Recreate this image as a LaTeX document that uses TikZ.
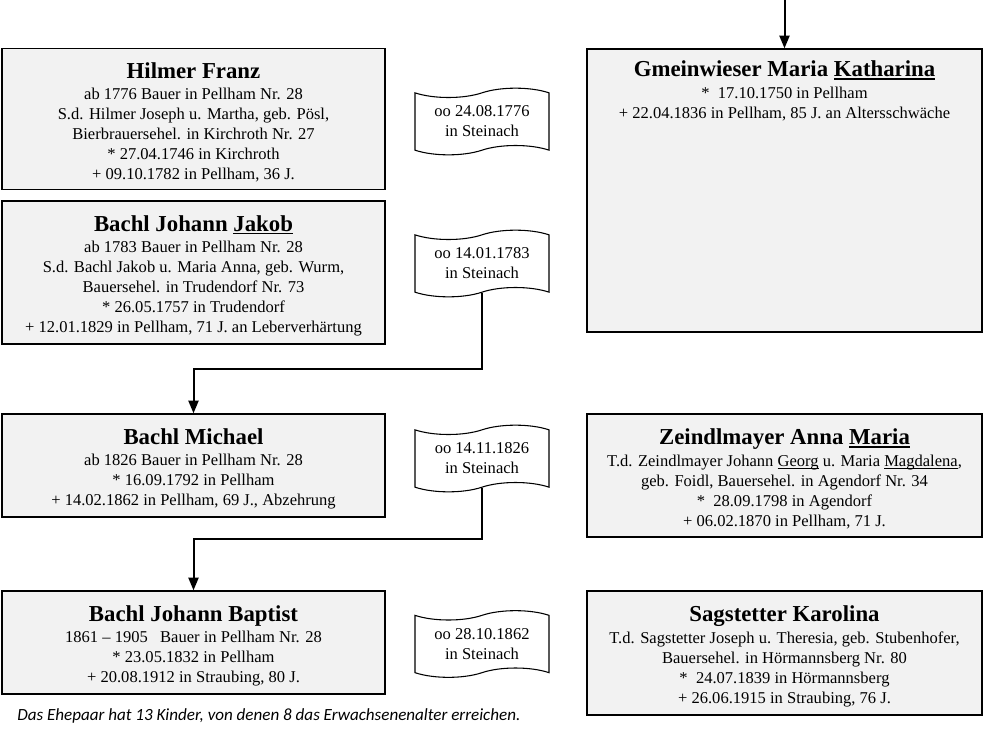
\documentclass[tikz,border=0pt]{standalone}
\usepackage{fontspec}
\setmainfont{Liberation Serif}
\newfontfamily\capfont{Carlito}
\usetikzlibrary{shapes.symbols,arrows.meta}
\definecolor{boxgray}{HTML}{F2F2F2}
\newcommand\pname[1]{{\fontsize{17.1}{20}\selectfont\bfseries\rule{0pt}{16.8pt}#1}}
\newcommand\uln[3][0.6pt]{\setbox0\hbox{#3}\rlap{\rule[#2]{\wd0}{#1}}\box0\relax}
\begin{document}
\begin{tikzpicture}[x=0.75pt,y=-0.75pt,
  pbox/.style={draw, line width=1pt, fill=boxgray, inner sep=0pt, align=center,
    font=\fontsize{12.4}{15}\selectfont},
  lbox/.style={pbox, minimum width=287.25pt},
  rbox/.style={pbox, minimum width=296.25pt},
  banner/.style={tape, draw, line width=0.8pt, fill=white, align=center,
    minimum width=100.5pt, minimum height=50pt, inner sep=0pt,
    tape bend top=in and out, tape bend bottom=in and out, tape bend height=7pt,
    font=\fontsize{12.4}{15}\selectfont},
  conn/.style={line width=1.5pt, -{Triangle[width=7.5pt,length=9.5pt]}}
]
\useasboundingbox (0,0) rectangle (983,736);

% left column
\node[lbox, minimum height=105.75pt] (hilmer) at (193.5,119) {\pname{Hilmer Franz}\\[1.2pt]
ab 1776 Bauer in Pellham Nr. 28\\
S.d. Hilmer Joseph u. Martha, geb. Pösl,\\
Bierbrauersehel. in Kirchroth Nr. 27\\
* 27.04.1746 in Kirchroth\\
+ 09.10.1782 in Pellham, 36 J.};

\node[lbox, minimum height=107.25pt] (jakob) at (193.5,272.5) {\pname{Bachl Johann \uln[1.1pt]{-2.2pt}{Jakob}}\\[1.2pt]
ab 1783 Bauer in Pellham Nr. 28\\
S.d. Bachl Jakob u. Maria Anna, geb. Wurm,\\
Bauersehel. in Trudendorf Nr. 73\\
* 26.05.1757 in Trudendorf\\
+ 12.01.1829 in Pellham, 71 J. an Leberverhärtung};

\node[lbox, minimum height=77.25pt] (michael) at (193.5,465.5) {\pname{Bachl Michael}\\[1.2pt]
ab 1826 Bauer in Pellham Nr. 28\\
* 16.09.1792 in Pellham\\
+ 14.02.1862 in Pellham, 69 J., Abzehrung};

\node[lbox, minimum height=77.25pt] (jb) at (193.5,642.5) {\pname{Bachl Johann Baptist}\\[1.2pt]
1861 -- 1905\hspace{0.75em}Bauer in Pellham Nr. 28\\
* 23.05.1832 in Pellham\\
+ 20.08.1912 in Straubing, 80 J.};

% right column
\node[rbox, minimum height=212.25pt] (gmein) at (784.5,190.5) {\parbox[c][212.25pt][t]{290pt}{\centering
\vspace*{3.9pt}\pname{Gmeinwieser Maria \uln[1.1pt]{-2.2pt}{Katharina}}\\[1.2pt]
*\hspace{0.5em}17.10.1750 in Pellham\\
+ 22.04.1836 in Pellham, 85 J. an Altersschwäche}};

\node[rbox, minimum height=92.25pt] (zeindl) at (784.5,475.5) {\pname{Zeindlmayer Anna \uln[1.1pt]{-2.2pt}{Maria}}\\[1.2pt]
T.d. Zeindlmayer Johann \uln{-1.6pt}{Georg} u. Maria \uln{-1.6pt}{Magdalena},\\
geb. Foidl, Bauersehel. in Agendorf Nr. 34\\
*\hspace{0.5em}28.09.1798 in Agendorf\\
+ 06.02.1870 in Pellham, 71 J.};

\node[rbox, minimum height=93pt] (sag) at (784.5,653) {\pname{Sagstetter Karolina}\\[1.2pt]
T.d. Sagstetter Joseph u. Theresia, geb. Stubenhofer,\\
Bauersehel. in Hörmannsberg Nr. 80\\
*\hspace{0.5em}24.07.1839 in Hörmannsberg\\
+ 26.06.1915 in Straubing, 76 J.};

% marriage banners
\node[banner] (m1) at (482,121.5) {oo 24.08.1776\\in Steinach};
\node[banner] (m2) at (482,263.5) {oo 14.01.1783\\in Steinach};
\node[banner] (m3) at (482,458.5) {oo 14.11.1826\\in Steinach};
\node[banner] (m4) at (482,644) {oo 28.10.1862\\in Steinach};

% connectors
\coordinate (topin) at (784.5,0);
\coordinate (k2) at (193.5,369);
\coordinate (k3) at (193.5,539);
\draw[conn] (topin) -- (gmein.north);
\draw[conn] (m2.south) |- (k2) -- (michael.north);
\draw[conn] (m3.south) |- (k3) -- (jb.north);

% caption
\node[anchor=west, inner sep=0pt, font=\capfont\itshape\fontsize{12.8}{14}\selectfont] (cap) at (17,716)
  {Das Ehepaar hat 13 Kinder, von denen 8 das Erwachsenenalter erreichen.};
\end{tikzpicture}
\end{document}
